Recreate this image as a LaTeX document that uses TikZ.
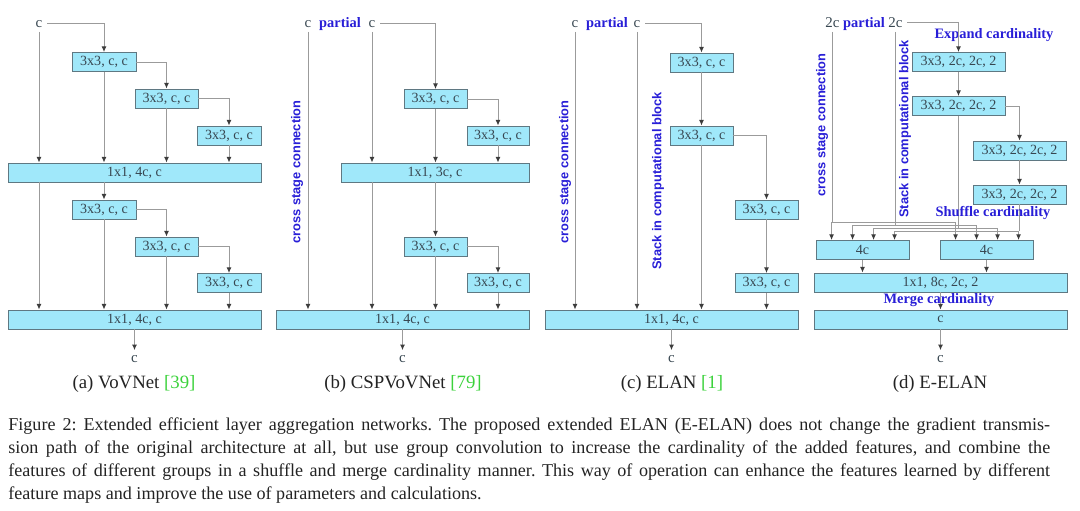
\documentclass[tikz,border=0pt]{standalone}
\usepackage{fontspec}
\setmainfont{Liberation Serif}
\newfontfamily\lsans{Liberation Sans}
\usetikzlibrary{arrows.meta,calc}
\definecolor{boxf}{RGB}{160,232,250}
\definecolor{boxd}{RGB}{95,120,130}
\definecolor{boxt}{RGB}{55,70,80}
\definecolor{lnc}{RGB}{155,155,155}
\definecolor{tipc}{RGB}{60,60,60}
\definecolor{bl}{RGB}{40,30,215}
\definecolor{citeg}{RGB}{60,210,60}
\definecolor{capc}{RGB}{35,35,35}
\frenchspacing
\begin{document}
\begin{tikzpicture}[x=0.02cm,y=-0.02cm,
 blk/.style={draw=boxd,fill=boxf,line width=0.5pt,minimum width=#1*0.02cm,minimum height=0.38cm,inner sep=0pt,text=boxt,font=\fontsize{8}{9}\selectfont},
 ln/.style={draw=lnc,line width=0.55pt},
 arr/.style={ln,-{Latex[length=3.2pt,width=2.8pt,color=tipc]}},
 lab/.style={anchor=base,text=boxt,inner sep=2.5pt,font=\fontsize{8.5}{9}\selectfont},
 note/.style={text=bl,inner sep=0pt,font=\bfseries\fontsize{8.2}{9}\selectfont},
 side/.style={text=bl,inner sep=0pt,rotate=90,font=\lsans\bfseries\fontsize{7.3}{8}\selectfont},
 sub/.style={text=capc,font=\fontsize{10.7}{12}\selectfont}]
\useasboundingbox (0,0) rectangle (1080,511);

\node[lab] (ai) at (39,27) {c};
\node[blk=64] (a1) at (104,62) {3x3, c, c};
\node[blk=63] (a2) at (166.5,98.5) {3x3, c, c};
\node[blk=64] (a3) at (229,135.5) {3x3, c, c};
\node[blk=253] (aM1) at (134.5,172.5) {1x1, 4c, c};
\node[blk=64] (a4) at (104,209.5) {3x3, c, c};
\node[blk=63] (a5) at (166.5,246.5) {3x3, c, c};
\node[blk=64] (a6) at (229,283) {3x3, c, c};
\node[blk=253] (aM2) at (134.5,319.5) {1x1, 4c, c};
\node[lab] (ao) at (134.5,362) {c};
\node[sub] at (134,384) {(a) VoVNet \textcolor{citeg}{[39]}};
\draw[arr] (ai) -| (a1);
\draw[arr] (a1) -| (a2);
\draw[arr] (a2) -| (a3);
\draw[arr] (a4) -| (a5);
\draw[arr] (a5) -| (a6);
\draw[arr] (ai) -- (ai |- aM1.north);
\draw[arr] (ai |- aM1.south) -- (ai |- aM2.north);
\foreach \n in {a1,a2,a3} \draw[arr] (\n) -- (\n |- aM1.north);
\foreach \n in {a4,a5,a6} \draw[arr] (\n) -- (\n |- aM2.north);
\draw[arr] (a4 |- aM1.south) -- (a4);
\draw[arr] (aM2) -- (ao);

\node[lab] (bi1) at (308,27) {c};
\node[note,anchor=base] at (340,27) {partial};
\node[lab] (bi2) at (372,27) {c};
\node[blk=63] (b1) at (435.5,99) {3x3, c, c};
\node[blk=62] (b2) at (498,135.5) {3x3, c, c};
\node[blk=188] (bM1) at (435,172.5) {1x1, 3c, c};
\node[blk=63] (b3) at (435.5,246.5) {3x3, c, c};
\node[blk=62] (b4) at (498,283) {3x3, c, c};
\node[blk=253] (bM2) at (402.5,319.5) {1x1, 4c, c};
\node[lab] (bo) at (402.5,362) {c};
\node[sub] at (403,384) {(b) CSPVoVNet \textcolor{citeg}{[79]}};
\node[side] at (297,172) {cross stage connection};
\draw[arr] (bi2) -| (b1);
\draw[arr] (b1) -| (b2);
\draw[arr] (b3) -| (b4);
\draw[arr] (bi1) -- (bi1 |- bM2.north);
\draw[arr] (bi2) -- (bi2 |- bM1.north);
\draw[arr] (bi2 |- bM1.south) -- (bi2 |- bM2.north);
\foreach \n in {b1,b2} \draw[arr] (\n) -- (\n |- bM1.north);
\foreach \n in {b3,b4} \draw[arr] (\n) -- (\n |- bM2.north);
\draw[arr] (b1 |- bM1.south) -- (b3);
\draw[arr] (bM2) -- (bo);

\node[lab] (ci1) at (575,27) {c};
\node[note,anchor=base] at (607,27) {partial};
\node[lab] (ci2) at (637,27) {c};
\node[blk=63] (c1) at (701.5,62.5) {3x3, c, c};
\node[blk=63] (c2) at (701.5,135.5) {3x3, c, c};
\node[blk=63] (c3) at (766.5,209.5) {3x3, c, c};
\node[blk=63] (c4) at (766.5,283) {3x3, c, c};
\node[blk=253] (cM) at (671.5,319.5) {1x1, 4c, c};
\node[lab] (co) at (671.5,362) {c};
\node[sub] at (672,384) {(c) ELAN \textcolor{citeg}{[1]}};
\node[side] at (565,172) {cross stage connection};
\node[side] at (658,181) {Stack in computational block};
\draw[arr] (ci2) -| (c1);
\draw[arr] (c1) -- (c2);
\draw[arr] (c2) -| (c3);
\draw[arr] (c3) -- (c4);
\foreach \n in {ci1,ci2,c2,c4} \draw[arr] (\n) -- (\n |- cM.north);
\draw[arr] (cM) -- (co);

\node[lab] (di1) at (832.5,27) {2c};
\node[note,anchor=base] at (864,27) {partial};
\node[lab] (di2) at (895.5,27) {2c};
\node[note] at (994,35) {Expand cardinality};
\node[blk=93] (d1) at (958.5,62) {3x3, 2c, 2c, 2};
\node[blk=93] (d2) at (958.5,106) {3x3, 2c, 2c, 2};
\node[blk=93] (d3) at (1019.5,150.5) {3x3, 2c, 2c, 2};
\node[blk=93] (d4) at (1019.5,194.5) {3x3, 2c, 2c, 2};
\node[blk=93] (g1) at (862.5,250) {4c};
\node[blk=93] (g2) at (986.5,250) {4c};
\node[blk=253] (dM) at (940.5,282.5) {1x1, 8c, 2c, 2};
\node[blk=253] (dF) at (940.5,319.5) {c};
\node[lab] (do) at (940.5,362) {c};
\node[sub] at (940,384) {(d) E-ELAN};
\node[side] at (822,125) {cross stage connection};
\node[side] at (905,129) {Stack in computational block};
\draw[arr] (di2) -| (d1);
\draw[arr] (d1) -- (d2);
\draw[arr] (d2) -| (d3);
\draw[arr] (d3) -- (d4);
\foreach \s/\h/\k in {di1/222/0,di2/225/1,d2/228/2,d4/231/3}{
  \coordinate (u) at ($(g1.north west)+(16+21*\k,0)$);
  \coordinate (v) at ($(g2.north west)+(16+21*\k,0)$);
  \draw[ln] (\s) -- (\s |- 0,\h);
  \draw[ln] (u |- 0,\h) -- (v |- 0,\h);
  \draw[arr] (u |- 0,\h) -- (u);
  \draw[arr] (v |- 0,\h) -- (v);
}
\draw[arr] (g1) -- (g1 |- dM.north);
\draw[arr] (g2) -- (g2 |- dM.north);
\draw[arr] (dM) -- (dF);
\draw[arr] (dF) -- (do);
\node[note] at (993,213) {Shuffle cardinality};
\node[note] at (939,300) {Merge cardinality};

\node[anchor=north west,inner sep=0pt,text width=20.84cm,align=justify,text=capc,font=\fontsize{10.3}{13.2}\selectfont] (cap) at (8,417) {Figure 2: Extended efficient layer aggregation networks. The proposed extended ELAN (E-ELAN) does not change the gradient transmis-\linebreak sion path of the original architecture at all, but use group convolution to increase the cardinality of the added features, and combine the\linebreak features of different groups in a shuffle and merge cardinality manner. This way of operation can enhance the features learned by different\linebreak feature maps and improve the use of parameters and calculations.};
\end{tikzpicture}
\end{document}
